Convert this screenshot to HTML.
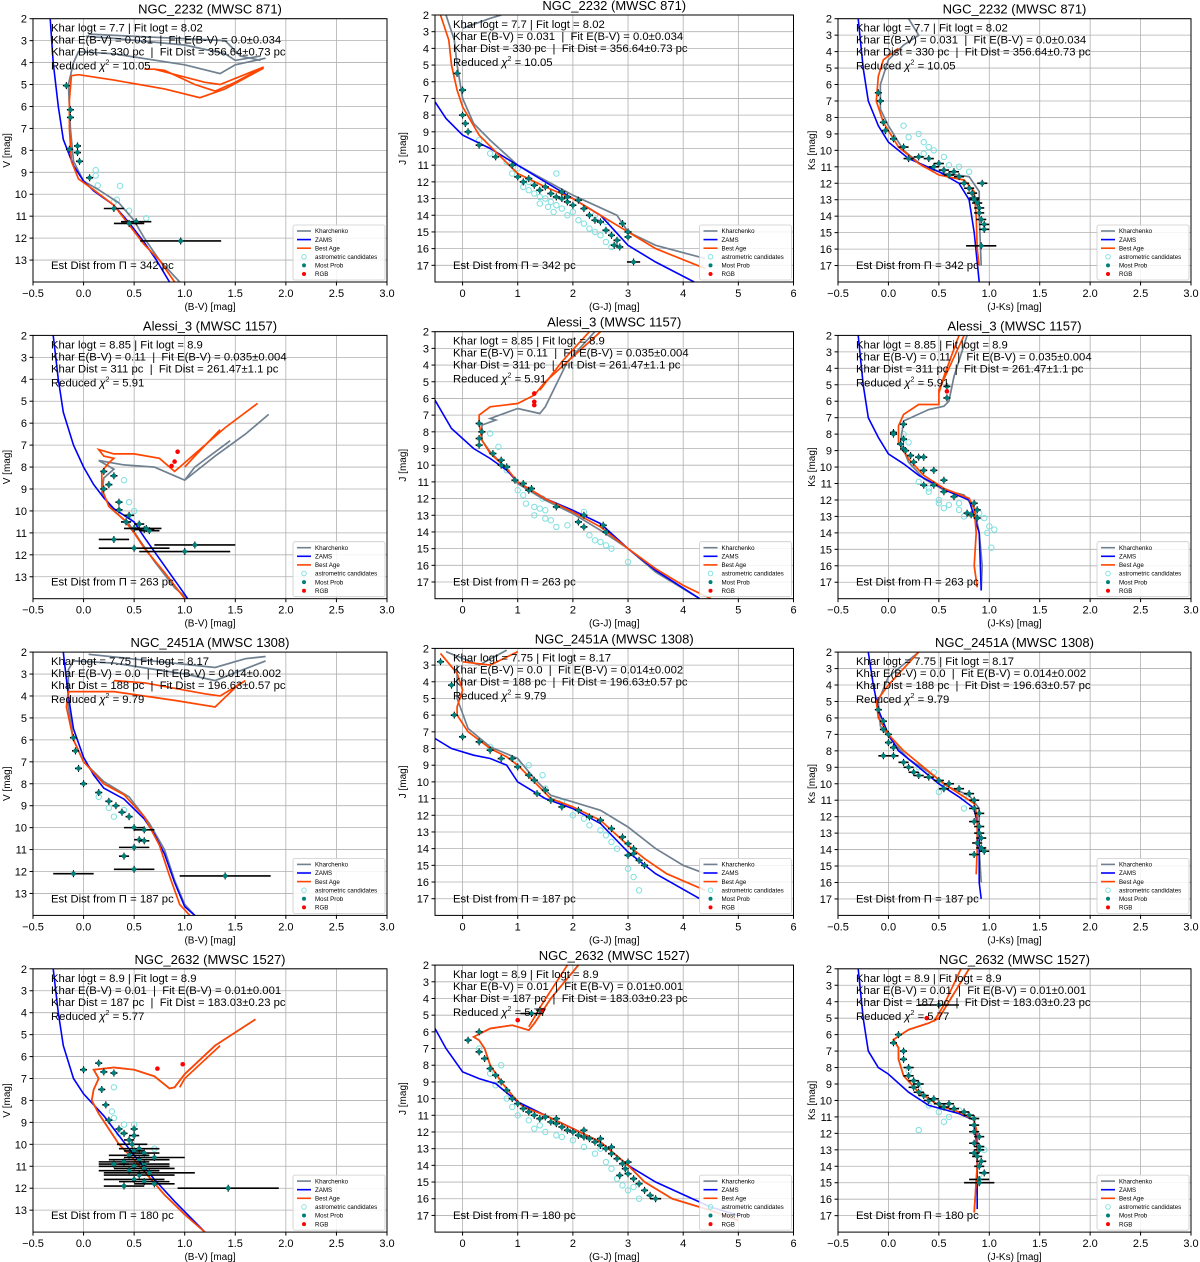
<!DOCTYPE html>
<html><head><meta charset="utf-8"><style>
body{margin:0;background:#fff;}
svg{display:block;font-family:"Liberation Sans",sans-serif;}
text{white-space:pre;}
</style></head><body>
<svg id="fig" width="1200" height="1262" viewBox="0 0 1200 1262" xmlns="http://www.w3.org/2000/svg" xml:space="preserve"></svg>
<script>
// ---------- data ----------
const clusterTitles = ["NGC_2232 (MWSC 871)","Alessi_3 (MWSC 1157)","NGC_2451A (MWSC 1308)","NGC_2632 (MWSC 1527)"];
const infoLines = [
 ["Khar logt = 7.7 | Fit logt = 8.02","Khar E(B-V) = 0.031  |  Fit E(B-V) = 0.0±0.034","Khar Dist = 330 pc  |  Fit Dist = 356.64±0.73 pc","10.05","342"],
 ["Khar logt = 8.85 | Fit logt = 8.9","Khar E(B-V) = 0.11  |  Fit E(B-V) = 0.035±0.004","Khar Dist = 311 pc  |  Fit Dist = 261.47±1.1 pc","5.91","263"],
 ["Khar logt = 7.75 | Fit logt = 8.17","Khar E(B-V) = 0.0  |  Fit E(B-V) = 0.014±0.002","Khar Dist = 188 pc  |  Fit Dist = 196.63±0.57 pc","9.79","187"],
 ["Khar logt = 8.9 | Fit logt = 8.9","Khar E(B-V) = 0.01  |  Fit E(B-V) = 0.01±0.001","Khar Dist = 187 pc  |  Fit Dist = 183.03±0.23 pc","5.77","180"]
];
const xLabels = ["(B-V) [mag]","(G-J) [mag]","(J-Ks) [mag]"];
const yLabels = ["V [mag]","J [mag]","Ks [mag]"];
const xTicks = [[-0.5,0,0.5,1,1.5,2,2.5,3],[0,1,2,3,4,5,6],[-0.5,0,0.5,1,1.5,2,2.5,3]];
const xTickLabels = [["−0.5","0.0","0.5","1.0","1.5","2.0","2.5","3.0"],["0","1","2","3","4","5","6"],["−0.5","0.0","0.5","1.0","1.5","2.0","2.5","3.0"]];
const yTicks = [[2,3,4,5,6,7,8,9,10,11,12,13],[2,3,4,5,6,7,8,9,10,11,12,13,14,15,16,17],[2,3,4,5,6,7,8,9,10,11,12,13,14,15,16,17]];
const legendLabels = ["Kharchenko","ZAMS","Best Age","astrometric candidates","Most Prob","RGB"];

const zams = [
 [[[-0.33,2],[-0.3,4],[-0.25,6],[-0.2,7.5],[-0.1,8.7],[0,9.4],[0.1,9.85],[0.3,10.5],[0.45,11.3],[0.6,12.2],[0.72,13],[0.85,14]],
  [[-0.5,7.2],[-0.3,8.2],[0,9.2],[0.5,10],[1,11],[1.5,12],[2,13],[2.5,14],[3,15.8],[3.5,16.8],[4.2,18]],
  [[-0.3,2],[-0.25,5],[-0.2,7],[-0.1,8.5],[0,9.5],[0.2,10.5],[0.5,11.3],[0.7,12],[0.8,13],[0.85,15],[0.9,18]]],
 [[[-0.3,2],[-0.25,4],[-0.2,5.5],[-0.1,7],[0,8],[0.1,8.8],[0.2,9.4],[0.3,9.9],[0.5,10.5],[0.6,11.2],[0.8,12.5],[1.0,13.8],[1.03,14]],
  [[-0.5,6.1],[-0.2,7.8],[0.2,9],[0.5,9.6],[0.8,10.3],[1,11],[1.5,12],[2,12.7],[2.5,13.5],[3,15],[3.5,16.3],[4.3,18]],
  [[-0.3,2],[-0.25,5],[-0.2,7],[-0.1,8.2],[0,9.2],[0.15,9.8],[0.3,10.5],[0.6,11.5],[0.8,12],[0.9,14],[0.92,17.5]]],
 [[[-0.2,2],[-0.15,4],[-0.1,5.5],[0,6.8],[0.1,7.6],[0.2,8.2],[0.4,8.7],[0.6,9.6],[0.7,10.3],[0.8,11.2],[0.9,12.5],[1.0,13.6],[1.1,14]],
  [[-0.5,7.4],[-0.2,8],[0.2,8.4],[0.5,8.6],[0.8,9],[1,10],[1.5,11],[2,11.6],[2.5,12.5],[3,14.2],[3.5,15.5],[4.3,17]],
  [[-0.2,2],[-0.15,4],[-0.1,5.5],[0,7],[0.1,8],[0.3,9],[0.5,10],[0.7,10.8],[0.85,11.5],[0.9,13],[0.9,16],[0.92,17]]],
 [[[-0.3,2],[-0.25,4],[-0.2,5.5],[-0.1,7],[0,7.7],[0.1,8.2],[0.2,8.7],[0.3,9.3],[0.5,10.5],[0.7,11.6],[0.9,12.6],[1.2,14]],
  [[-0.5,5.8],[-0.3,7],[0,8.4],[0.3,8.8],[0.6,9.1],[1,10.2],[1.5,11],[2,11.8],[2.5,12.6],[3,14],[3.5,15],[4.5,16.5],[5,17]],
  [[-0.3,2],[-0.25,5],[-0.2,7],[-0.1,8],[0,8.4],[0.2,9.5],[0.4,10.3],[0.7,10.8],[0.85,11.2],[0.88,13],[0.88,16.6]]]
];
const bestAge = [
 [[[[1.78,4.25],[1.4,5.2],[1.15,5.6],[0.8,5.2],[0.3,4.8],[-0.05,4.55],[-0.12,4.6],[-0.14,5.7],[-0.14,7],[-0.12,8.5],[-0.05,9.3],[0.1,9.8],[0.3,10.5],[0.45,11.4],[0.6,12.3],[0.75,13],[0.9,14]],[[1.78,4.2],[1.5,4.9],[1.3,5.3],[1.1,5.0],[0.8,4.35],[0.7,4.3]],[[1.78,4.2],[1.35,5.0],[1.2,4.9],[0.7,4.3],[0.6,4.3]]],
  [[[-0.4,2],[-0.25,3.5],[-0.2,5],[-0.1,6.5],[0,7.5],[0.3,9.2],[0.6,10.2],[1,11.5],[1.5,12.3],[2,13],[2.5,14],[3,15],[3.5,16],[4.4,17.2]]],
  [[[0.1,3.8],[-0.05,4.5],[-0.1,5.5],[-0.12,7],[-0.05,8.3],[0.1,9.8],[0.3,10.8],[0.5,11.5],[0.75,11.8],[0.85,12.5],[0.87,14],[0.88,16],[0.9,17]]]],
 [[[[1.72,5.1],[1.4,6.2],[1.1,7.4],[0.95,8.0],[0.9,8.2],[0.75,7.6],[0.5,7.4],[0.3,7.4],[0.15,7.2],[0.2,7.5],[0.3,7.6],[0.25,7.8],[0.18,8.2],[0.18,9],[0.25,9.8],[0.4,10.4],[0.5,11],[0.6,11.7],[0.8,12.8],[1.0,14]],[[1.35,6.3],[1.1,7.5],[1.0,8.0]]],
  [[[2.5,2],[2.0,3.5],[1.5,5.0],[1.3,5.8],[1.0,6.3],[0.5,6.5],[0.3,7.0],[0.3,7.5],[0.35,8.5],[0.5,9.3],[0.8,10.2],[1.0,11],[1.5,12],[2.0,12.8],[2.5,13.7],[3.0,15.0],[3.5,16.2],[4.0,17.2],[4.5,18]],[[2.3,2],[1.8,3.8],[1.4,5.5]]],
  [[[0.75,2],[0.6,4],[0.5,5.3],[0.5,6.2],[0.3,6.2],[0.15,6.8],[0.1,7.5],[0.1,8.5],[0.2,9.5],[0.35,10.5],[0.55,11.3],[0.8,11.9],[0.85,12.5],[0.87,14],[0.85,16],[0.88,17.3]],[[0.7,2],[0.55,4.5],[0.5,5.5]]]],
 [[[[1.55,3.4],[1.3,4.5],[0.9,4.2],[0.3,3.8],[-0.15,3.8],[-0.17,4.5],[-0.1,6],[0,7],[0.2,8],[0.4,8.5],[0.6,9.5],[0.75,10.8],[0.85,12.2],[0.95,13.5],[1.05,14]],[[1.6,3.3],[1.35,4.0],[1.2,3.9],[0.6,3.4],[0.3,3.3]]],
  [[[-0.4,2.3],[-0.1,3.5],[0,4.5],[-0.1,5.5],[-0.1,6],[0.1,7],[0.5,8],[0.8,8.5],[1,9],[1.3,10],[1.6,11],[2,11.5],[2.5,12.3],[3.0,13.8],[3.3,14.6],[3.7,15.5],[4.4,16.5]],[[0,2.8],[0.5,3],[1,2.2]]],
  [[[0.3,2],[0,4],[-0.12,5],[-0.1,6],[0,7],[0.15,8],[0.35,9],[0.55,10],[0.75,10.8],[0.85,11.2],[0.88,12],[0.88,14],[0.87,15.5]]]],
 [[[[1.7,4.3],[1.3,5.5],[1.0,6.8],[0.9,7.4],[0.85,7.45],[0.7,6.9],[0.5,6.6],[0.3,6.5],[0.1,6.6],[0.15,7.0],[0.1,7.5],[0.08,8],[0.15,8.6],[0.25,9.3],[0.35,10],[0.5,10.7],[0.65,11.5],[0.8,12.3],[1.0,13.2],[1.2,14]],[[1.35,5.5],[1.0,7.0],[0.95,7.4]]],
  [[[2.1,2],[1.6,4],[1.3,5.5],[1.2,5.9],[0.9,5.6],[0.5,5.8],[0.2,6.3],[0.3,6.5],[0.4,7],[0.5,8],[0.7,9],[0.9,9.8],[1.1,10.5],[1.5,11],[2,11.8],[2.5,12.6],[3,14],[3.3,15],[3.8,16],[4.5,16.7],[5,17.3]],[[1.9,2],[1.45,4.3],[1.2,5.7]]],
  [[[0.8,2],[0.6,4],[0.5,5],[0.4,5.3],[0.2,5.7],[0.05,6.3],[0.1,6.8],[0.1,7.5],[0.15,8.5],[0.3,9.5],[0.5,10.3],[0.7,10.7],[0.85,11.2],[0.88,12],[0.88,14],[0.85,16.8]],[[0.72,2],[0.55,4.2],[0.45,5.2]]]]
];
const khar = [
 [[[[1.8,3.8],[1.5,4.1],[1.35,4.5],[1.0,4.1],[0.3,3.6],[-0.05,3.5],[-0.1,4],[-0.15,5],[-0.13,7],[-0.1,8.5],[0,9.4],[0.15,9.8],[0.35,10.4],[0.5,11.2],[0.6,12],[0.75,13],[0.95,14]],[[0.05,2.7],[1.4,3.0],[1.55,3.7],[1.75,3.9]],[[1.75,3.7],[1.5,3.9],[1.4,3.6],[1.0,3.2],[0.3,2.9],[0.02,2.8]]],
  [[[-0.3,2],[-0.15,3.5],[-0.1,5],[0,7],[0.2,8.5],[0.5,9.5],[1,11],[2,12.8],[2.8,14],[3,15],[3.5,15.8],[4.4,16.6]],[[0,2.8],[0.5,2.2],[0.7,2]]],
  [[[0.2,2],[0.3,3],[0.15,3.6],[0,4.5],[-0.08,6],[-0.08,7.5],[0,8.5],[0.15,10],[0.35,11],[0.55,11.4],[0.8,11.6],[0.9,12.5],[0.9,14],[0.92,17]]]],
 [[[[1.83,5.6],[1.6,6.5],[1.3,7.5],[1.0,8.6],[0.9,8.4],[0.7,8.0],[0.4,7.9],[0.15,7.7],[0.3,8.1],[0.2,8.5],[0.18,9.2],[0.3,10.0],[0.45,10.6],[0.55,11.3],[0.7,12.3],[0.9,13.5],[1.03,14]],[[1.45,6.8],[1.1,8.0],[1.0,8.6]]],
  [[[2.4,2],[1.9,3.8],[1.5,6.5],[1.4,6.9],[1.0,6.6],[0.5,7.2],[0.6,7.3],[0.35,7.6],[0.35,8.5],[0.5,9.2],[0.8,10.2],[1.0,11.1],[1.5,12.1],[2.0,12.9],[2.5,13.9],[3.0,15.0],[3.5,16.4],[4.3,18]]],
  [[[0.78,2],[0.65,4.5],[0.6,6],[0.55,6.3],[0.4,6.5],[0.15,7.2],[0.12,8.5],[0.2,9.7],[0.35,10.7],[0.55,11.4],[0.75,11.7],[0.85,12.5],[0.9,14],[0.93,16],[0.92,17.5]]]],
 [[[[1.8,2.4],[1.3,3.3],[1.0,3.0],[0.3,2.5],[-0.1,2.4],[-0.15,2.8],[-0.15,4.5],[-0.1,6],[0,7],[0.2,7.9],[0.45,8.6],[0.65,9.8],[0.8,11],[0.9,12.4],[1.0,13.5],[1.1,14]],[[0.05,2.1],[1.3,2.7],[1.6,2.3],[1.8,2.2]]],
  [[[-0.3,2.2],[0.3,3],[0.8,2.1]],[[-0.1,3],[-0.1,5],[0.1,6.8],[0.5,7.9],[1,8.6],[1.3,9.8],[1.6,10.8],[2,11.2],[2.5,11.7],[3.0,12.7],[3.5,14],[4.0,15],[4.4,15.5]]],
  [[[0.3,2],[0,3.5],[-0.1,5],[-0.08,6.5],[0.05,7.5],[0.2,8.5],[0.4,9.3],[0.6,10.2],[0.8,10.7],[0.9,11.5],[0.9,14],[0.92,16]]]],
 [[[[1.7,4.3],[1.3,5.5],[1.0,6.8],[0.9,7.4],[0.85,7.45],[0.7,6.9],[0.5,6.6],[0.3,6.5],[0.1,6.6],[0.15,7.0],[0.1,7.5],[0.08,8],[0.15,8.6],[0.25,9.3],[0.35,10],[0.5,10.7],[0.65,11.5],[0.8,12.3],[1.0,13.2],[1.2,14]]],
  [[[2.1,2],[1.6,4],[1.3,5.5],[1.2,5.9],[0.9,5.6],[0.5,5.8],[0.2,6.3],[0.3,6.5],[0.4,7],[0.5,8],[0.7,9],[0.9,9.8],[1.1,10.5],[1.5,11],[2,11.8],[2.5,12.6],[3,14],[3.3,15],[3.8,16],[4.5,16.7],[5,17.3]]],
  [[[0.8,2],[0.6,4],[0.5,5],[0.4,5.3],[0.2,5.7],[0.05,6.3],[0.1,6.8],[0.1,7.5],[0.15,8.5],[0.3,9.5],[0.5,10.3],[0.7,10.7],[0.85,11.2],[0.88,12],[0.88,14],[0.85,16.8]]]]
];
const mostProb = [
 [[[-0.17,5.05,0],[-0.13,6.15,0],[-0.13,6.5,0],[-0.06,7.8,0],[-0.06,8.1,0],[-0.04,8.5,0.02],[-0.14,7.95,0],[0.06,9.25,0.03],[0.3,10.65,0.1],[0.52,11.25,0.15],[0.45,11.33,0.15],[0.96,12.13,0.4]],
  [[0,6.5,0],[-0.1,5.5,0],[0,8,0],[0.05,8.5,0],[0.1,9,0],[0.3,9.8,0],[0.6,10.5,0],[0.9,11,0],[1.0,11.7,0.05],[1.1,12,0.05],[1.2,11.8,0.05],[1.3,12.2,0.05],[1.4,12.5,0.05],[1.5,12.3,0.05],[1.6,12.7,0.05],[1.7,12.9,0.05],[1.8,13.0,0.05],[1.9,13.2,0.05],[2.0,13.4,0.05],[1.9,12.9,0.05],[2.1,13.1,0.05],[1.8,12.6,0.05],[2.2,13.6,0.05],[2.3,14.0,0.05],[2.4,14.3,0.05],[2.5,14.4,0.05],[2.6,14.9,0.05],[2.7,15.2,0.05],[2.8,15.5,0.05],[2.75,15.8,0.05],[2.85,15.9,0.05],[3.0,15.0,0.05],[3.0,15.3,0.05],[2.9,14.5,0.05],[3.1,16.8,0.12]],
  [[-0.1,6.5,0],[-0.08,7,0],[-0.05,8.3,0.03],[-0.03,8.8,0.03],[0.05,9.3,0.03],[0.15,9.8,0.05],[0.2,10.5,0.05],[0.3,10.4,0.05],[0.4,10.5,0.05],[0.45,11,0.05],[0.5,10.8,0.05],[0.55,11.2,0.05],[0.6,11.5,0.05],[0.65,11.3,0.05],[0.7,11.6,0.05],[0.75,12,0.05],[0.8,12.3,0.05],[0.83,12.6,0.05],[0.85,12.9,0.05],[0.88,13.2,0.05],[0.9,13.5,0.05],[0.9,13.8,0.05],[0.92,14.2,0.05],[0.95,14.5,0.05],[0.85,13.0,0.05],[0.93,12.0,0.05],[0.92,15.8,0.15],[0.95,14.8,0.05]]],
 [[[0.2,8.2,0],[0.25,8.8,0],[0.3,8.4,0],[0.2,9.0,0],[0.35,9.6,0.02],[0.35,9.95,0.02],[0.45,10.2,0.05],[0.42,10.5,0.05],[0.55,10.6,0.05],[0.5,10.8,0.1],[0.6,10.85,0.1],[0.65,10.9,0.1],[0.3,11.3,0.15],[0.5,11.7,0.35],[1.1,11.55,0.4],[1.0,11.85,0.45],[0.62,10.8,0.15]],
  [[0.3,7.5,0],[0.35,8.0,0],[0.3,8.4,0],[0.3,8.8,0],[0.55,9.3,0],[0.7,9.7,0],[0.7,10.0,0],[0.8,10.1,0],[0.95,10.9,0],[1.1,11.1,0],[1.2,11.5,0],[1.25,11.4,0],[1.7,12.5,0],[2.1,13.4,0],[2.2,13.7,0],[2.2,13.0,0],[2.55,13.6,0],[2.6,14.0,0]],
  [[0.05,7.9,0.03],[0.05,8.0,0.03],[0.15,7.4,0.03],[0.12,8.6,0.03],[0.15,8.3,0.03],[0.15,8.9,0.03],[0.17,9.0,0.03],[0.22,9.3,0.03],[0.3,9.4,0.03],[0.35,9.4,0.03],[0.25,9.7,0.03],[0.35,10.2,0.03],[0.45,10.2,0.03],[0.55,10.8,0.03],[0.35,11.1,0.03],[0.45,11.1,0.03],[0.55,11.5,0.03],[0.65,11.8,0.03],[0.85,12.2,0.03],[0.88,12.6,0.03],[0.78,12.8,0.03],[0.82,12.9,0.03],[0.88,13.1,0.03],[0.58,5.1,0],[0.58,5.8,0]]],
 [[[-0.1,5.9,0],[-0.08,6.5,0],[-0.05,7.3,0],[0.0,8.0,0],[0.15,8.4,0],[0.25,8.8,0],[0.32,9.0,0],[0.38,9.3,0],[0.45,9.5,0],[0.5,10.0,0.1],[0.6,10.1,0.1],[0.55,10.55,0.05],[0.5,10.9,0.15],[0.6,10.6,0.05],[0.4,11.3,0.05],[-0.1,12.1,0.2],[0.5,11.9,0.2],[1.4,12.2,0.45]],
  [[-0.4,2.8,0],[-0.2,4.2,0],[-0.15,6,0],[0,7.3,0],[0.3,7.6,0],[0.5,8.1,0],[0.7,8.6,0],[0.9,8.6,0],[1.0,9.1,0],[1.2,9.6,0],[1.3,9.9,0],[1.35,10.7,0],[1.5,10.5,0],[1.6,11.1,0],[1.8,11.5,0],[2.1,11.7,0],[2.3,12.1,0],[2.5,12.3,0],[2.7,12.8,0],[2.9,13.3,0],[3.0,13.7,0],[3.1,14.0,0],[3.0,14.4,0],[3.2,14.7,0],[3.3,15.0,0],[3.1,14.3,0]],
  [[-0.1,5.5,0],[-0.05,6.2,0],[-0.05,6.7,0],[0,7,0],[0,7.5,0],[0.05,7.8,0],[0.05,8.3,0.05],[0.15,8.7,0.05],[0.2,9.0,0.05],[0.25,9.3,0.05],[0.3,9.5,0.05],[0.4,9.6,0.05],[0.5,9.8,0.05],[0.6,10.0,0.05],[0.55,10.3,0.05],[0.7,10.3,0.05],[0.8,10.6,0.05],[0.85,11.0,0.05],[0.85,11.5,0.05],[0.9,11.8,0.05],[0.85,12.3,0.05],[0.9,12.6,0.05],[0.9,13.0,0.05],[0.92,13.3,0.05],[0.88,13.6,0.05],[0.92,13.9,0.05],[0.95,14.1,0.05],[0.85,14.3,0.05],[-0.05,8.3,0.05]]],
 [[[0.0,6.6,0],[0.15,6.3,0],[0.2,6.7,0],[0.3,6.75,0],[0.18,7.5,0],[0.22,8.2,0],[0.25,8.9,0],[0.35,9.3,0.03],[0.4,9.5,0.03],[0.45,9.8,0.05],[0.5,9.6,0.05],[0.48,10.0,0.15],[0.55,10.2,0.2],[0.5,10.3,0.1],[0.6,10.4,0.15],[0.45,10.5,0.2],[0.55,10.7,0.3],[0.6,10.9,0.25],[0.4,10.8,0.25],[0.5,11.0,0.35],[0.6,11.1,0.3],[0.45,11.2,0.3],[0.55,11.4,0.35],[0.5,11.6,0.3],[0.6,11.7,0.25],[0.4,11.9,0.2],[0.7,11.8,0.2],[0.7,10.6,0.3],[0.65,11.3,0.45],[1.43,12.0,0.5],[0.3,10.9,0.15],[0.5,9.3,0.03]],
  [[0.1,6.5,0],[0.3,6.0,0],[0.3,7.2,0],[0.4,7.6,0],[0.5,8.2,0],[0.6,8.6,0],[0.7,9.0,0],[0.8,9.5,0],[0.9,10.0,0],[1.0,10.3,0],[1.1,10.6,0],[1.2,10.8,0],[1.3,11.0,0],[1.4,11.2,0],[1.5,11.1,0],[1.6,11.4,0],[1.7,11.5,0],[1.8,11.7,0],[1.9,11.9,0],[2.0,12.0,0],[2.1,12.2,0],[2.2,12.3,0],[2.3,12.4,0],[2.4,12.6,0],[2.5,12.8,0],[2.6,13.0,0],[2.7,13.3,0],[2.8,13.6,0],[2.9,13.9,0],[2.95,14.2,0],[3.0,14.5,0],[3.1,14.8,0],[3.2,15.1,0],[3.3,15.5,0],[3.4,15.8,0],[3.5,16.0,0.1],[2.2,11.9,0],[2.5,12.4,0],[2.7,12.9,0],[1.7,11.2,0],[3.0,13.8,0],[2.85,14.6,0],[1.25,4.9,0.2],[1.4,4.7,0]],
  [[0.1,6.0,0],[0.05,6.5,0],[0.15,7.0,0],[0.15,7.5,0],[0.2,8.0,0.05],[0.2,8.5,0.05],[0.25,8.8,0.05],[0.25,9.2,0.05],[0.3,9.5,0.05],[0.35,9.7,0.05],[0.4,10.0,0.05],[0.5,10.2,0.05],[0.55,10.4,0.05],[0.65,10.5,0.05],[0.75,10.7,0.05],[0.8,10.9,0.05],[0.85,11.1,0.05],[0.85,11.5,0.05],[0.85,11.9,0.05],[0.9,12.2,0.05],[0.85,12.6,0.05],[0.9,13.0,0.05],[0.88,13.4,0.05],[0.92,13.7,0.05],[0.9,14.0,0.05],[0.95,14.4,0.05],[0.9,14.8,0.1],[0.9,15.0,0.15],[0.3,9.0,0.05],[0.45,9.9,0.05],[0.6,10.2,0.05],[0.9,12.8,0.05],[0.85,13.2,0.05],[0.5,4.2,0.2]]]
];
const candidates = [
 [[[0.12,8.9],[0.12,9.15],[0.14,9.6],[0.36,9.62],[0.33,10.25],[0.3,10.35],[0.45,10.75],[0.62,11.1]],
  [[0.3,9.5],[0.5,10.3],[0.8,10.8],[1.0,11.2],[1.1,12.3],[1.2,12.5],[1.3,12.7],[1.4,12.9],[1.5,13.0],[1.6,13.2],[1.7,13.4],[1.8,13.6],[1.65,13.8],[1.9,14],[2.0,13.8],[2.1,14.3],[2.2,14.5],[2.3,14.8],[2.4,15],[2.5,15.2],[2.6,15.6],[2.7,15.9],[1.4,13.3],[1.55,13.5],[1.2,12.0],[0.9,11.5],[1.7,11.5],[2.4,14.0],[2.6,14.4]],
  [[0.3,9],[0.35,9.5],[0.4,9.8],[0.2,9.2],[0.15,8.5],[0.45,10],[0.55,10.4],[0.6,10.9],[0.7,11],[0.35,10.2],[0.8,11.3]]],
 [[[0.4,8.6],[0.45,9.6],[0.5,10.0],[0.45,10.4]],
  [[0.5,8.1],[0.65,8.9],[0.8,10.3],[1.0,11.5],[1.1,11.8],[1.15,12.3],[1.3,12.5],[1.4,12.6],[1.5,12.7],[1.3,13.0],[1.5,13.2],[1.6,13.3],[1.7,13.7],[1.9,13.6],[2.2,12.8],[2.3,14.2],[2.4,14.5],[2.5,14.6],[2.6,14.8],[2.7,15.0],[3.0,15.8],[1.45,12.0]],
  [[0.15,8.0],[0.2,8.5],[0.3,10.9],[0.4,11.3],[0.4,11.5],[0.5,12.0],[0.5,12.2],[0.55,12.5],[0.6,12.3],[0.7,12.6],[0.75,13.0],[0.9,12.8],[0.95,13.1],[1.0,13.6],[1.05,13.8],[0.98,14.0],[1.02,14.9],[0.7,12.2]]],
 [[[0.15,8.6],[0.25,9.1],[0.3,9.5],[0.4,9.2]],
  [[0.5,7.9],[1.0,8.9],[1.2,9.0],[1.45,9.6],[1.5,10.4],[1.8,11.2],[2.0,12.0],[2.2,12.2],[2.3,12.6],[2.6,13.2],[2.7,13.6],[2.8,14.0],[3.0,15.2],[3.1,15.7],[3.2,16.5],[2.5,12.9]],
  [[0.3,9.0],[0.45,9.3],[0.5,10.5],[0.55,10.2],[0.75,10.8],[0.75,11.5]]],
 [[[0.28,8.5],[0.3,8.8],[0.3,7.4],[0.35,9.5],[0.4,9.1],[0.5,9.1],[0.55,10.3],[0.6,10.6],[0.7,10.2]],
  [[0.3,7.0],[0.5,8.5],[0.6,9.2],[0.8,10.0],[0.9,10.5],[1.0,11.0],[1.2,11.3],[1.3,11.8],[1.5,12.0],[1.7,12.2],[2.0,12.5],[2.2,12.9],[2.4,13.3],[2.6,13.8],[2.7,14.2],[2.8,14.8],[2.9,15.2],[3.0,15.5],[3.2,16.0],[1.4,11.6],[2.5,13.0],[0.7,8.0],[1.8,12.3],[3.1,15.3]],
  [[0.2,8.2],[0.3,9.3],[0.4,10.3],[0.5,10.7],[0.6,11.0],[0.55,11.3],[0.7,10.6],[0.9,14.5],[0.95,13.0],[0.3,11.8]]]
];
const rgbStars = [
 [[],[],[]],
 [[[0.93,7.3],[0.9,7.75],[0.87,7.95]],[[1.3,5.7],[1.3,6.2],[1.3,6.4]],[[0.58,5.4]]],
 [[],[],[]],
 [[[0.73,6.55],[0.98,6.35]],[[1.0,5.3],[1.45,4.7]],[[0.38,5.0]]]
];

// ---------- geometry ----------
const colGeom = [
 {left:33,right:387,xmin:-0.5,xmax:3.0,top:18.7,bottom:282,ymin:2,ymax:14},
 {left:435,right:793.5,xmin:-0.5,xmax:6.0,top:15,bottom:282,ymin:2,ymax:18},
 {left:838,right:1191,xmin:-0.5,xmax:3.0,top:18.7,bottom:282,ymin:2,ymax:18}
];
const rowStep = 316.7;
const NS = "http://www.w3.org/2000/svg";
const svg = document.getElementById('fig');
function mk(tag, attrs, parent, text){
  const e = document.createElementNS(NS, tag);
  for (const k in attrs) e.setAttribute(k, attrs[k]);
  if (text !== undefined) e.textContent = text;
  (parent||svg).appendChild(e);
  return e;
}
const C_KHAR="#708090", C_ZAMS="#0000ff", C_BEST="#ff4500", C_CAND="#7fe0e0", C_MP="#00807a", C_RGB="#ff0000";

for (let r=0;r<4;r++){
  for (let c=0;c<3;c++){
    const g0 = colGeom[c];
    const oy = r*rowStep;
    const L=g0.left, R=g0.right, T=g0.top+oy, B=g0.bottom+oy;
    const sx = v => L + (v-g0.xmin)/(g0.xmax-g0.xmin)*(R-L);
    const sy = v => T + (v-g0.ymin)/(g0.ymax-g0.ymin)*(B-T);
    const panel = mk('g',{});
    
    
    const clipId='clip'+r+c;
    const cp = mk('clipPath',{id:clipId},panel);
    mk('rect',{x:L,y:T,width:R-L,height:B-T},cp);
    const grid = mk('g',{stroke:"#b0b0b0","stroke-width":"0.8"},panel);
    
    
    xTicks[c].forEach((v,i)=>{
      const x=sx(v);
      mk('line',{x1:x,x2:x,y1:T,y2:B},grid);
      mk('line',{x1:x,x2:x,y1:B,y2:B+3.5,stroke:"#000"},panel);
      const t=mk('text',{x:x,y:B+15,"font-size":"11","text-anchor":"middle",fill:"#000"},panel,xTickLabels[c][i]);
      
      
    });
    yTicks[c].forEach(v=>{
      const y=sy(v);
      mk('line',{x1:L,x2:R,y1:y,y2:y},grid);
      mk('line',{x1:L-3.5,x2:L,y1:y,y2:y,stroke:"#000"},panel);
      const t=mk('text',{x:L-6,y:y+4,"font-size":"11","text-anchor":"end",fill:"#000"},panel,String(v));
      
      
    });
    const plot = mk('g',{"clip-path":"url(#"+clipId+")"},panel);
    
    
    const pathOf = pts => pts.map((p,i)=>(i?'L':'M')+sx(p[0]).toFixed(1)+' '+sy(p[1]).toFixed(1)).join(' ');
    candidates[r][c].forEach(p=>{
      const e=mk('circle',{cx:sx(p[0]),cy:sy(p[1]),r:2.7,fill:"none",stroke:C_CAND,"stroke-width":"1"},plot);
      
      
    });
    khar[r][c].forEach(pts=>{
      const e=mk('path',{d:pathOf(pts),fill:"none",stroke:C_KHAR,"stroke-width":"1.7"},plot);
      
      
    });
    {
      const e=mk('path',{d:pathOf(zams[r][c]),fill:"none",stroke:C_ZAMS,"stroke-width":"1.6"},plot);
      
      
    }
    bestAge[r][c].forEach(pts=>{
      const e=mk('path',{d:pathOf(pts),fill:"none",stroke:C_BEST,"stroke-width":"1.7"},plot);
      
      
    });
    mostProb[r][c].forEach(p=>{
      const x=sx(p[0]), y=sy(p[1]);
      const g=mk('g',{},plot);
      
      
      const ex = Math.max(sx(p[0]+p[2])-x, 3.5);
      mk('line',{x1:x-ex,x2:x+ex,y1:y,y2:y,stroke:"#000","stroke-width":"1.6"},g);
      mk('line',{x1:x,x2:x,y1:y-3.5,y2:y+3.5,stroke:"#000","stroke-width":"1.1"},g);
      mk('circle',{cx:x,cy:y,r:2.3,fill:C_MP},g);
    });
    rgbStars[r][c].forEach(p=>{
      const e=mk('circle',{cx:sx(p[0]),cy:sy(p[1]),r:2.3,fill:C_RGB},plot);
      
      
    });
    const fr=mk('rect',{x:L,y:T,width:R-L,height:B-T,fill:"none",stroke:"#000","stroke-width":"1"},panel);
    
    
    const ti=mk('text',{x:(L+R)/2,y:T-5,"font-size":"13","text-anchor":"middle",fill:"#000"},panel,clusterTitles[r]);
    
    
    const xl=mk('text',{x:(L+R)/2,y:B+28,"font-size":"10","text-anchor":"middle",fill:"#000"},panel,xLabels[c]);
    
    
    const yx = c===1 ? L-29 : L-23;
    const yl=mk('text',{x:yx,y:(T+B)/2,"font-size":"10","text-anchor":"middle",fill:"#000",transform:"rotate(-90 "+yx+" "+((T+B)/2)+")"},panel,yLabels[c]);
    
    
    const info=infoLines[r];
    const ax=L+18;
    const ann=mk('g',{"font-size":"11.3",fill:"#000"},panel);
    
    
    mk('text',{x:ax,y:T+13},ann,info[0]);
    mk('text',{x:ax,y:T+25},ann,info[1]);
    mk('text',{x:ax,y:T+37},ann,info[2]);
    const chi=mk('text',{x:ax,y:T+51},ann);
    chi.appendChild(document.createTextNode('Reduced '));
    mk('tspan',{"font-style":"italic"},chi,'χ');
    mk('tspan',{"font-size":"7",dy:"-5"},chi,'2');
    mk('tspan',{dy:"5"},chi,' = '+info[3]);
    const est=mk('text',{x:ax,y:B-13,"font-size":"11.3",fill:"#000"},panel,'Est Dist from Π = '+info[4]+' pc');
    
    
    const lg=mk('g',{},panel);
    
    
    const lx=R-94, ly=B-57;
    mk('rect',{x:lx,y:ly,width:92,height:55,rx:2,fill:"#fff","fill-opacity":"0.85",stroke:"#ccc","stroke-width":"0.8"},lg);
    legendLabels.forEach((lab,i)=>{
      const yy=ly+6+i*8.6;
      const ent=mk('g',{},lg);
      
      
      if(i<3){
        mk('line',{x1:lx+4,x2:lx+18,y1:yy,y2:yy,stroke:[C_KHAR,C_ZAMS,C_BEST][i],"stroke-width":"1.6"},ent);
      } else if(i===3){
        mk('circle',{cx:lx+11,cy:yy,r:2.3,fill:"none",stroke:C_CAND,"stroke-width":"0.9"},ent);
      } else {
        mk('circle',{cx:lx+11,cy:yy,r:2,fill:i===4?C_MP:C_RGB},ent);
      }
      mk('text',{x:lx+22,y:yy+2.2,"font-size":"6.2",fill:"#000"},ent,lab);
    });
  }
}
</script>
</body></html>
